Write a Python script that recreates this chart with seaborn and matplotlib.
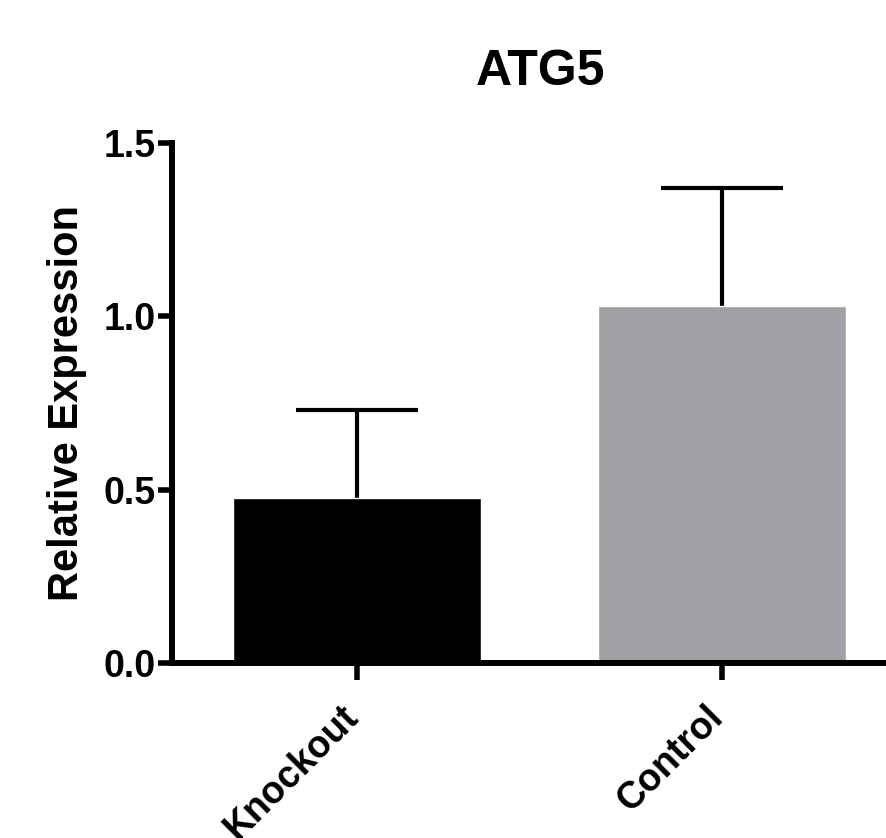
import matplotlib
matplotlib.use("Agg")
import matplotlib.pyplot as plt
import matplotlib.transforms as mtransforms
import seaborn as sns
import pandas as pd

groups = ["Knockout", "Control"]
means = [0.475, 1.03]
errors_upper = [0.255, 0.34]
colors = ["#000000", "#A1A0A5"]
title = "ATG5"
ylabel = "Relative Expression"
yticks = [0.0, 0.5, 1.0, 1.5]
ytick_labels = ["0.0", "0.5", "1.0", "1.5"]

sns.set_theme(style="white")
plt.rcParams['font.family'] = ['Liberation Sans', 'DejaVu Sans']
plt.rcParams['font.weight'] = 'bold'
plt.rcParams['text.color'] = 'black'
plt.rcParams['axes.labelcolor'] = 'black'
plt.rcParams['xtick.color'] = 'black'
plt.rcParams['ytick.color'] = 'black'

df = pd.DataFrame({"group": groups, "value": means})

fig = plt.figure(figsize=(8.87, 8.38), dpi=100)
ax = fig.add_axes([172/887, (838-663)/838, 1 - 172/887, (663-143)/838])

eb = ax.errorbar([0, 1], means, yerr=[[0, 0], errors_upper], fmt='none',
                 ecolor='black', elinewidth=3, capsize=44, capthick=3, zorder=1)
# keep only the upper caps
caplines = eb.lines[1]
if len(caplines) == 2:
    caplines[0].set_visible(False)

sns.barplot(data=df, x="group", y="value", hue="group", palette=colors,
            width=0.677, errorbar=None, legend=False, ax=ax, zorder=2,
            saturation=1)

ax.set_xlim(-0.507, 1.452)
ax.set_ylim(0, 1.5)

for s in ["top", "right"]:
    ax.spines[s].set_visible(False)
for s in ["left", "bottom"]:
    ax.spines[s].set_linewidth(4.3)
    ax.spines[s].set_color("black")

ax.tick_params(axis='y', direction='out', length=10, width=4, pad=2, left=True)
ax.tick_params(axis='x', direction='out', length=12, width=4, pad=6, bottom=True)

ax.set_yticks(yticks)
ax.set_yticklabels(ytick_labels, fontsize=27, fontweight='bold', color='black')
ax.set_xticks([0, 1])
ax.set_xticklabels(groups, fontsize=27, fontweight='bold', rotation=45,
                   ha='right', rotation_mode='anchor', color='black')
offset = mtransforms.ScaledTranslation(-17/100, -11/100, fig.dpi_scale_trans)
for lbl in ax.xaxis.get_majorticklabels():
    lbl.set_transform(lbl.get_transform() + offset)

ax.set_xlabel("")
ax.set_ylabel(ylabel, fontsize=30, fontweight='bold', labelpad=12, color='black')
ax.set_title(title, fontsize=36, fontweight='bold', pad=42, x=0.515, color='black')

fig.savefig("out.png", dpi=100)
